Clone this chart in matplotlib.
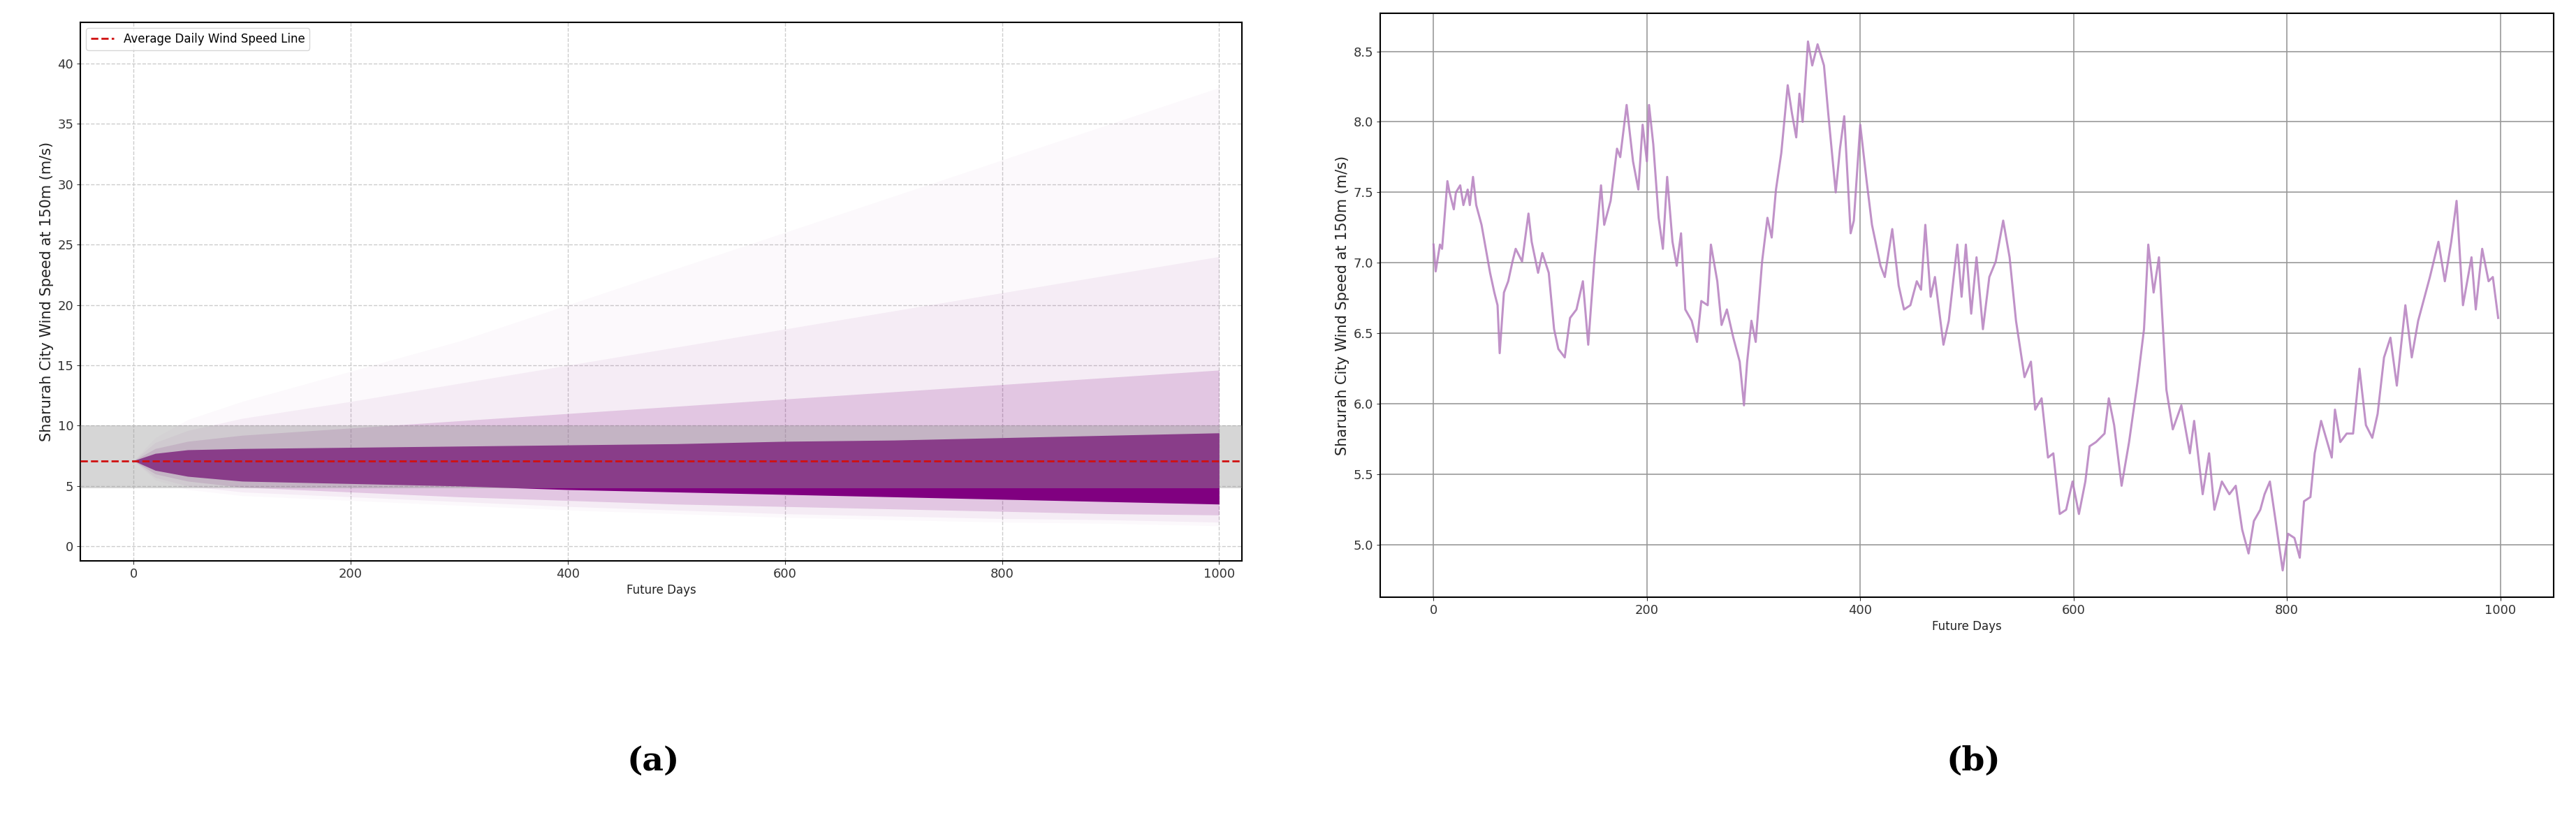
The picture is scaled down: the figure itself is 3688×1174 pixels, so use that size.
import matplotlib
matplotlib.use("Agg")
import matplotlib.pyplot as plt
import numpy as np

# ---- Panel (a): simulation envelope (quantile bands) ----
fan_days = [0, 20, 50, 100, 200, 300, 400, 500, 600, 700, 800, 900, 1000]
core_lo = [7.1, 6.3, 5.8, 5.4, 5.2, 5.0, 4.7, 4.5, 4.3, 4.1, 3.9, 3.7, 3.5]
core_hi = [7.1, 7.7, 8.0, 8.1, 8.2, 8.3, 8.4, 8.5, 8.7, 8.8, 9.0, 9.2, 9.4]
mid_lo = [7.1, 6.0, 5.4, 4.9, 4.5, 4.1, 3.8, 3.5, 3.3, 3.1, 2.9, 2.7, 2.6]
mid_hi = [7.1, 8.1, 8.7, 9.2, 9.8, 10.4, 11.0, 11.6, 12.2, 12.8, 13.4, 14.0, 14.6]
wide_lo = [7.1, 5.7, 5.0, 4.5, 4.1, 3.7, 3.3, 3.0, 2.7, 2.5, 2.3, 2.2, 2.0]
wide_hi = [7.1, 8.6, 9.6, 10.6, 12.0, 13.5, 15.0, 16.5, 18.0, 19.5, 21.0, 22.5, 24.0]
outer_lo = [7.1, 5.5, 4.7, 4.2, 3.8, 3.4, 3.0, 2.7, 2.4, 2.2, 2.0, 1.9, 1.7]
outer_hi = [7.1, 9.0, 10.5, 12.0, 14.5, 17.0, 20.0, 23.0, 26.0, 29.0, 32.0, 35.0, 38.0]
avg_speed = 7.1
band_lo, band_hi = 4.8, 10.0

# ---- Panel (b): single simulated path ----
path_days = [0, 2, 6, 8, 13, 15, 19, 21, 25, 28, 32, 34, 37, 40, 45, 53, 57, 60, 62, 66, 70, 74, 77, 83, 89, 92, 98,
             102, 108, 113, 117, 123, 128, 134, 140, 145, 151, 157, 160, 166, 172, 175, 181, 187, 192, 196, 200, 202,
             206, 211, 215, 219, 224, 228, 232, 236, 242, 247, 251, 257, 260, 266, 270, 275, 281, 287, 291, 294, 298,
             302, 308, 313, 317, 321, 326, 332, 336, 340, 343, 346, 351, 355, 360, 366, 370, 377, 381, 385, 391, 394,
             400, 406, 411, 419, 423, 430, 436, 441, 447, 453, 457, 461, 466, 470, 478, 483, 491, 495, 499, 504, 509,
             515, 521, 527, 534, 540, 546, 554, 560, 564, 570, 576, 581, 587, 593, 599, 605, 611, 615, 621, 629, 633,
             638, 645, 652, 660, 666, 670, 675, 680, 687, 693, 701, 709, 713, 721, 727, 732, 739, 746, 752, 758, 764,
             769, 775, 779, 784, 789, 796, 801, 807, 812, 816, 822, 826, 832, 842, 845, 850, 856, 862, 868, 874, 880,
             885, 891, 897, 903, 911, 917, 923, 928, 934, 942, 948, 954, 959, 965, 973, 977, 983, 989, 993, 998]
path_vals = [7.13, 6.94, 7.13, 7.10, 7.58, 7.50, 7.38, 7.50, 7.55, 7.41, 7.52, 7.41, 7.61, 7.41, 7.27, 6.93, 6.79,
             6.70, 6.36, 6.79, 6.87, 7.01, 7.10, 7.01, 7.35, 7.15, 6.93, 7.07, 6.93, 6.53, 6.39, 6.33, 6.61, 6.67,
             6.87, 6.42, 7.04, 7.55, 7.27, 7.44, 7.81, 7.75, 8.12, 7.72, 7.52, 7.98, 7.72, 8.12, 7.84, 7.32, 7.10,
             7.61, 7.15, 6.98, 7.21, 6.67, 6.59, 6.44, 6.73, 6.70, 7.13, 6.87, 6.56, 6.67, 6.47, 6.30, 5.99, 6.30,
             6.59, 6.44, 7.01, 7.32, 7.18, 7.52, 7.78, 8.26, 8.06, 7.89, 8.20, 8.00, 8.57, 8.40, 8.55, 8.40, 8.06,
             7.50, 7.81, 8.04, 7.21, 7.30, 7.98, 7.58, 7.27, 6.98, 6.90, 7.24, 6.84, 6.67, 6.70, 6.87, 6.81, 7.27,
             6.76, 6.90, 6.42, 6.59, 7.13, 6.76, 7.13, 6.64, 7.04, 6.53, 6.90, 7.01, 7.30, 7.04, 6.59, 6.19, 6.30,
             5.96, 6.04, 5.62, 5.65, 5.22, 5.25, 5.45, 5.22, 5.45, 5.70, 5.73, 5.79, 6.04, 5.85, 5.42, 5.73, 6.16,
             6.53, 7.13, 6.79, 7.04, 6.10, 5.82, 5.99, 5.65, 5.88, 5.36, 5.65, 5.25, 5.45, 5.36, 5.42, 5.11, 4.94,
             5.17, 5.25, 5.36, 5.45, 5.19, 4.82, 5.08, 5.05, 4.91, 5.31, 5.34, 5.65, 5.88, 5.62, 5.96, 5.73, 5.79,
             5.79, 6.25, 5.85, 5.76, 5.93, 6.33, 6.47, 6.13, 6.70, 6.33, 6.59, 6.73, 6.90, 7.15, 6.87, 7.15, 7.44,
             6.70, 7.04, 6.67, 7.10, 6.87, 6.90, 6.61]

ylabel = "Sharurah City Wind Speed at 150m (m/s)"
xlabel = "Future Days"

fig = plt.figure(figsize=(36.88, 11.74), dpi=100)
axa = fig.add_axes([115/3688, 1-803/1174, (1778-115)/3688, (803-32)/1174])
axb = fig.add_axes([1976/3688, 1-855/1174, (3656-1976)/3688, (855-19)/1174])

purple = "#800080"
axa.fill_between(fan_days, outer_lo, outer_hi, color=purple, alpha=0.025, lw=0, zorder=2)
axa.fill_between(fan_days, wide_lo, wide_hi, color=purple, alpha=0.05, lw=0, zorder=2)
axa.fill_between(fan_days, mid_lo, mid_hi, color=purple, alpha=0.16, lw=0, zorder=2)
axa.fill_between(fan_days, core_lo, core_hi, color=purple, alpha=1.0, lw=0, zorder=3)
axa.axhspan(band_lo, band_hi, color="#999999", alpha=0.4, lw=0, zorder=4)
axa.axhline(avg_speed, color="#d01010", ls="--", lw=2, zorder=5, label="Average Daily Wind Speed Line")
axa.set_xlim(-49, 1021)
axa.set_ylim(-1.2, 43.4)
axa.set_yticks(range(0, 41, 5))
axa.set_xticks(range(0, 1001, 200))
axa.grid(True, ls="--", color="#cccccc", lw=1, zorder=0)
axa.set_axisbelow(True)
axa.set_ylabel(ylabel, fontsize=15, color="#222222")
axa.set_xlabel(xlabel, fontsize=12, color="#222222")
axa.tick_params(labelsize=13, colors="#333333")
axa.legend(loc="upper left", fontsize=12)

axb.plot(path_days, path_vals, color="#b57fbf", lw=2.2, alpha=0.85)
axb.set_xlim(-50, 1050)
axb.set_ylim(4.63, 8.77)
axb.set_xticks(range(0, 1001, 200))
axb.set_yticks([5.0, 5.5, 6.0, 6.5, 7.0, 7.5, 8.0, 8.5])
axb.grid(True, color="#999999", lw=1.2)
axb.set_axisbelow(True)
axb.set_ylabel(ylabel, fontsize=15, color="#222222")
axb.set_xlabel(xlabel, fontsize=12, color="#222222")
axb.tick_params(labelsize=13, colors="#333333")

for ax in (axa, axb):
    for s in ax.spines.values():
        s.set_linewidth(1.5)

fig.text(935/3688, 1-1090/1174, "(a)", fontsize=34, fontweight="bold", family="DejaVu Serif", ha="center", va="center")
fig.text(2825/3688, 1-1090/1174, "(b)", fontsize=34, fontweight="bold", family="DejaVu Serif", ha="center", va="center")

fig.savefig("out.png", dpi=100)
